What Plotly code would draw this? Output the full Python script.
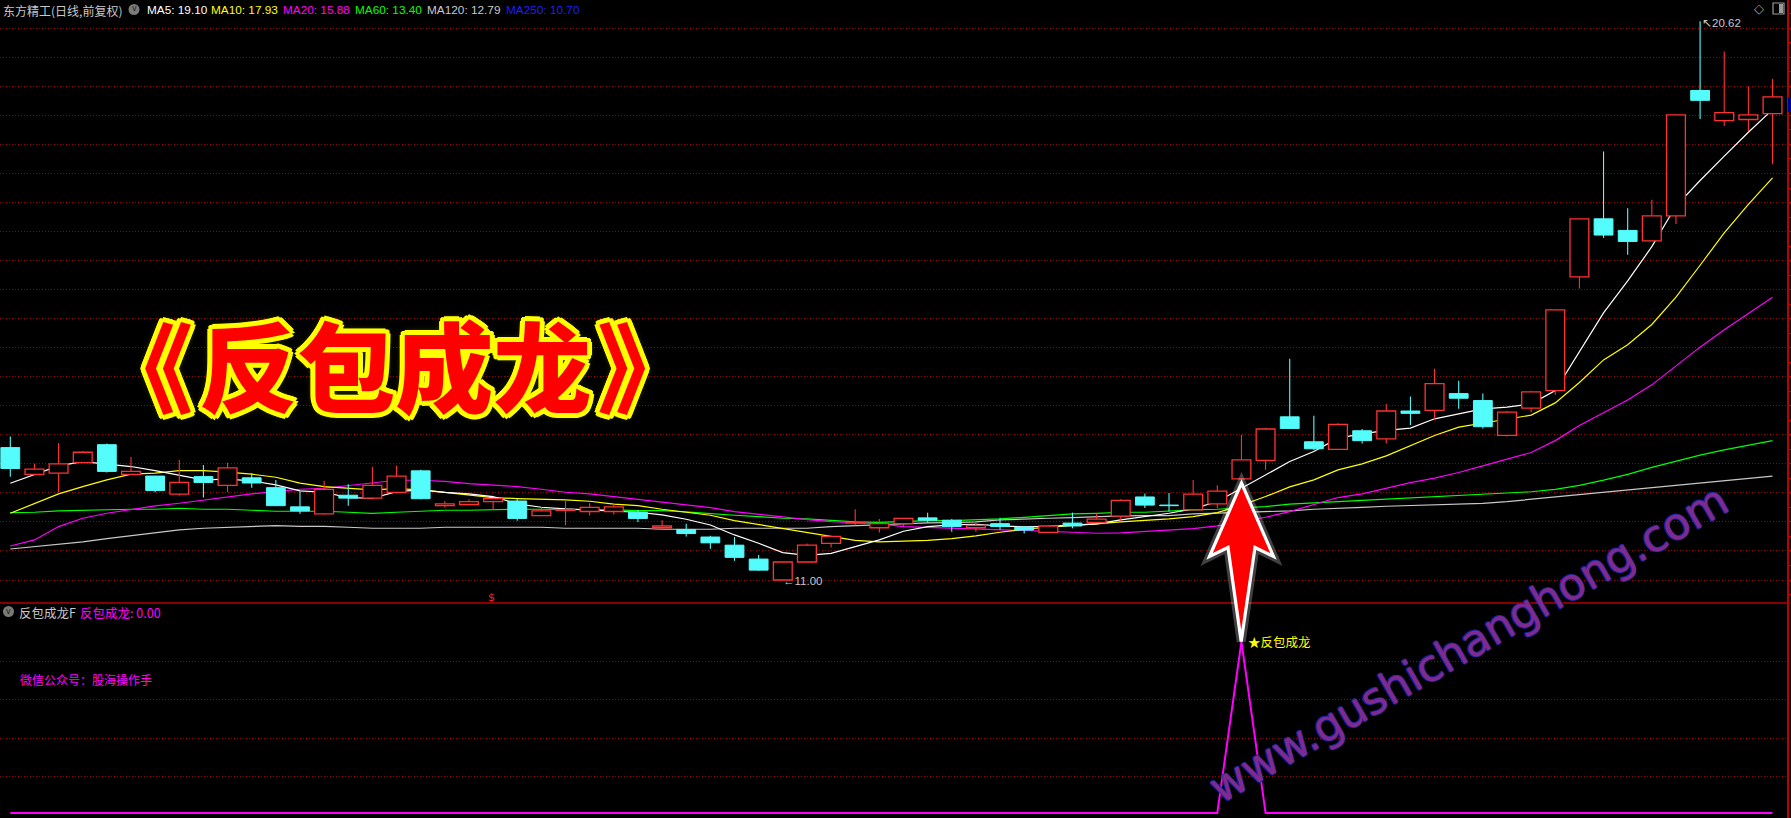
import plotly.graph_objects as go

W, H = 1791, 818

# ---------------- data ----------------
opens = [13.28, 12.82, 12.84, 13.02, 13.33, 12.82, 12.79, 12.48, 12.78, 12.63,
         12.76, 12.59, 12.26, 12.14, 12.46, 12.41, 12.51, 12.88, 12.28, 12.30,
         12.35, 12.36, 12.11, 12.20, 12.18, 12.18, 12.17, 11.90, 11.87, 11.74,
         11.60, 11.36, 11.00, 11.31, 11.63, 11.98, 11.90, 11.97, 12.07, 12.03,
         11.90, 11.97, 11.91, 11.82, 11.98, 11.99, 12.10, 12.43, 12.29, 12.21,
         12.31, 12.74, 13.06, 13.81, 13.38, 13.25, 13.57, 13.43, 13.91, 13.92,
         14.21, 14.09, 13.49, 13.96, 14.26, 16.22, 17.22, 17.02, 16.84, 17.27,
         19.43, 18.91, 18.93, 19.03]
highs = [13.47, 13.00, 13.36, 13.22, 13.35, 13.12, 12.79, 13.07, 12.98, 13.02,
         12.84, 12.72, 12.53, 12.71, 12.65, 12.95, 12.97, 12.90, 12.36, 12.39,
         12.40, 12.40, 12.25, 12.38, 12.32, 12.32, 12.20, 12.03, 11.97, 11.76,
         11.74, 11.43, 11.31, 11.63, 11.75, 12.22, 12.05, 12.06, 12.16, 12.05,
         11.98, 12.07, 11.93, 11.93, 12.16, 12.15, 12.39, 12.49, 12.50, 12.72,
         12.63, 13.50, 13.62, 14.81, 13.83, 13.70, 13.60, 14.03, 14.16, 14.64,
         14.43, 14.21, 13.91, 14.26, 15.66, 17.22, 18.38, 17.40, 17.55, 19.01,
         20.62, 20.10, 19.50, 19.63]
lows = [12.78, 12.82, 12.51, 13.02, 12.85, 12.82, 12.51, 12.45, 12.42, 12.51,
        12.59, 12.28, 12.14, 12.13, 12.28, 12.39, 12.49, 12.39, 12.25, 12.30,
        12.22, 12.02, 12.11, 11.94, 12.11, 12.13, 12.00, 11.86, 11.75, 11.54,
        11.33, 11.16, 11.00, 11.31, 11.56, 11.94, 11.82, 11.93, 11.99, 11.83,
        11.83, 11.87, 11.80, 11.82, 11.89, 11.99, 12.02, 12.24, 12.18, 12.21,
        12.24, 12.74, 12.90, 13.61, 13.24, 13.25, 13.35, 13.35, 13.67, 13.75,
        13.95, 13.61, 13.47, 13.89, 14.19, 16.02, 16.89, 16.60, 16.84, 17.13,
        18.94, 18.82, 18.73, 18.16]
closes = [12.92, 12.91, 13.00, 13.20, 12.87, 12.87, 12.54, 12.68, 12.68, 12.93,
          12.67, 12.28, 12.19, 12.56, 12.41, 12.63, 12.79, 12.40, 12.31, 12.35,
          12.40, 12.06, 12.19, 12.21, 12.25, 12.26, 12.06, 11.93, 11.80, 11.64,
          11.39, 11.17, 11.31, 11.60, 11.75, 11.99, 11.97, 12.06, 12.03, 11.92,
          11.94, 11.92, 11.86, 11.93, 11.93, 12.05, 12.37, 12.29, 12.28, 12.48,
          12.53, 13.07, 13.60, 13.61, 13.26, 13.68, 13.40, 13.91, 13.87, 14.38,
          14.13, 13.64, 13.89, 14.24, 15.65, 17.22, 16.94, 16.83, 17.27, 19.01,
          19.26, 19.05, 19.01, 19.32]

ma5 = [12.667, 12.810, 12.966, 13.040, 12.994, 12.954, 12.885, 12.810, 12.724, 12.736,
       12.707, 12.638, 12.534, 12.511, 12.420, 12.408, 12.523, 12.552, 12.510, 12.483,
       12.437, 12.310, 12.253, 12.224, 12.207, 12.190, 12.167, 12.121, 12.046, 11.948,
       11.776, 11.632, 11.471, 11.425, 11.460, 11.575, 11.690, 11.840, 11.920, 11.950,
       11.960, 11.931, 11.914, 11.925, 11.943, 11.966, 12.034, 12.092, 12.149, 12.224,
       12.351, 12.580, 12.810, 13.040, 13.213, 13.443, 13.517, 13.575, 13.615, 13.776,
       13.862, 13.948, 13.977, 14.034, 14.264, 14.930, 15.600, 16.150, 16.740, 17.440,
       17.880, 18.300, 18.710, 19.100]
ma10 = [12.149, 12.322, 12.483, 12.609, 12.724, 12.822, 12.839, 12.885, 12.885, 12.856,
        12.822, 12.770, 12.667, 12.609, 12.580, 12.552, 12.575, 12.552, 12.508, 12.466,
        12.420, 12.402, 12.391, 12.379, 12.356, 12.305, 12.282, 12.218, 12.167, 12.115,
        12.023, 11.954, 11.885, 11.810, 11.741, 11.684, 11.655, 11.667, 11.684, 11.713,
        11.759, 11.822, 11.874, 11.908, 11.931, 11.966, 12.000, 12.023, 12.052, 12.092,
        12.161, 12.287, 12.437, 12.603, 12.724, 12.897, 13.000, 13.138, 13.310, 13.489,
        13.632, 13.701, 13.776, 13.839, 14.050, 14.400, 14.790, 15.050, 15.400, 15.870,
        16.420, 16.977, 17.470, 17.925]
ma20 = [11.586, 11.690, 11.920, 12.063, 12.149, 12.218, 12.276, 12.322, 12.379, 12.437,
        12.483, 12.523, 12.563, 12.580, 12.626, 12.667, 12.718, 12.718, 12.700, 12.661,
        12.638, 12.609, 12.563, 12.511, 12.483, 12.437, 12.397, 12.339, 12.299, 12.247,
        12.178, 12.126, 12.086, 12.040, 12.006, 11.989, 11.966, 11.920, 11.908, 11.897,
        11.885, 11.874, 11.856, 11.839, 11.822, 11.805, 11.810, 11.839, 11.868, 11.885,
        11.931, 12.006, 12.080, 12.178, 12.293, 12.420, 12.483, 12.580, 12.678, 12.753,
        12.851, 12.966, 13.080, 13.195, 13.400, 13.660, 13.880, 14.100, 14.360, 14.680,
        15.010, 15.310, 15.590, 15.870]
ma60 = [12.161, 12.167, 12.190, 12.201, 12.201, 12.218, 12.218, 12.236, 12.218, 12.218,
        12.201, 12.184, 12.184, 12.184, 12.167, 12.149, 12.167, 12.184, 12.201, 12.201,
        12.213, 12.218, 12.218, 12.218, 12.213, 12.207, 12.195, 12.195, 12.172, 12.138,
        12.115, 12.092, 12.063, 12.052, 12.023, 12.000, 11.994, 12.011, 12.023, 12.023,
        12.034, 12.052, 12.080, 12.115, 12.138, 12.149, 12.167, 12.167, 12.190, 12.207,
        12.218, 12.236, 12.264, 12.305, 12.322, 12.351, 12.370, 12.390, 12.410, 12.430,
        12.450, 12.470, 12.490, 12.520, 12.560, 12.630, 12.720, 12.820, 12.940, 13.050,
        13.150, 13.240, 13.320, 13.400]
ma120 = [11.534, 11.575, 11.621, 11.655, 11.713, 11.764, 11.805, 11.862, 11.891, 11.908,
         11.920, 11.937, 11.925, 11.925, 11.908, 11.891, 11.891, 11.891, 11.908, 11.908,
         11.908, 11.908, 11.908, 11.891, 11.891, 11.891, 11.891, 11.874, 11.874, 11.874,
         11.891, 11.891, 11.891, 11.891, 11.920, 11.937, 11.960, 11.966, 11.983, 11.989,
         12.000, 12.034, 12.052, 12.063, 12.075, 12.092, 12.103, 12.109, 12.109, 12.138,
         12.149, 12.155, 12.172, 12.190, 12.218, 12.240, 12.250, 12.270, 12.280, 12.300,
         12.310, 12.320, 12.350, 12.390, 12.430, 12.470, 12.510, 12.550, 12.590, 12.630,
         12.670, 12.720, 12.750, 12.790]

signal = [0, 0, 0, 0, 0, 0, 0, 0, 0, 0,
          0, 0, 0, 0, 0, 0, 0, 0, 0, 0,
          0, 0, 0, 0, 0, 0, 0, 0, 0, 0,
          0, 0, 0, 0, 0, 0, 0, 0, 0, 0,
          0, 0, 0, 0, 0, 0, 0, 0, 0, 0,
          0, 1, 0, 0, 0, 0, 0, 0, 0, 0,
          0, 0, 0, 0, 0, 0, 0, 0, 0, 0,
          0, 0, 0, 0]

header_labels = ["东方精工(日线,前复权)", "MA5: 19.10", "MA10: 17.93", "MA20: 15.88",
                 "MA60: 13.40", "MA120: 12.79", "MA250: 10.70"]
grid_prices = [11.0, 11.5, 12.0, 12.5, 13.0, 13.5, 14.0, 14.5, 15.0, 15.5,
               16.0, 16.5, 17.0, 17.5, 18.0, 18.5, 19.0, 19.5, 20.0, 20.5]
high_label = "20.62"
low_label = "11.00"

# ---------------- styling ----------------
RED = "#FF3232"
CYAN = "#54FCFC"
GRID = "#A00000"
idx = list(range(len(closes)))


def px(x):
    return x / W


def py(y):
    return 1 - y / H


fig = go.Figure()

# moving averages (underneath candles)
for vals, col in [(ma120, "#C8C8C8"), (ma60, "#00FF00"), (ma20, "#FF00FF"),
                  (ma10, "#FFFF00"), (ma5, "#FFFFFF")]:
    fig.add_trace(go.Scatter(x=idx, y=vals, mode="lines", line=dict(color=col, width=1.2),
                             hoverinfo="skip", xaxis="x", yaxis="y"))

# candles on overlay axis (drawn above the MAs)
up = [i for i in idx if closes[i] >= opens[i]]
dn = [i for i in idx if closes[i] < opens[i]]

fig.add_trace(go.Bar(x=dn, base=[closes[i] for i in dn],
                     y=[opens[i] - closes[i] for i in dn], width=0.78,
                     marker=dict(color=CYAN, line=dict(color=CYAN, width=1)),
                     hoverinfo="skip", xaxis="x", yaxis="y3"))
fig.add_trace(go.Bar(x=up, base=[opens[i] for i in up],
                     y=[max(closes[i] - opens[i], 0.012) for i in up], width=0.78,
                     marker=dict(color="#000000", line=dict(color=RED, width=1.3)),
                     hoverinfo="skip", xaxis="x", yaxis="y3"))

wx, wy = [], []
for i in up:
    wx += [i, i, None, i, i, None]
    wy += [max(opens[i], closes[i]), highs[i], None, lows[i], min(opens[i], closes[i]), None]
fig.add_trace(go.Scatter(x=wx, y=wy, mode="lines", line=dict(color=RED, width=1.1),
                         hoverinfo="skip", xaxis="x", yaxis="y3"))
dx, dy = [], []
for i in dn:
    dx += [i, i, None]
    dy += [highs[i], lows[i], None]
fig.add_trace(go.Scatter(x=dx, y=dy, mode="lines", line=dict(color=CYAN, width=1.1),
                         hoverinfo="skip", xaxis="x", yaxis="y3"))

# indicator panel
fig.add_trace(go.Scatter(x=idx, y=signal, mode="lines", line=dict(color="#FF00FF", width=2),
                         hoverinfo="skip", xaxis="x", yaxis="y2", cliponaxis=False))

# ---------------- axes ----------------
K = 58.07
main_top = 11.0 + 580 / K
main_bot = 11.0 - 23 / K
KL = 171.3
low_top = (813 - 603) / KL
low_bot = (813 - 818) / KL
low_grid = [(813 - y) / KL for y in (661.7, 699.5, 738.0, 776.0)]
sep = 1 - 603 / H
xr = [(-10.3) / 24.14, (1787 - 10.3) / 24.14]

fig.update_layout(
    width=W, height=H, margin=dict(l=0, r=0, t=0, b=0),
    paper_bgcolor="#000000", plot_bgcolor="#000000",
    showlegend=False, barmode="overlay", hovermode=False,
    xaxis=dict(domain=[0, 1787 / W], range=xr, showgrid=False, zeroline=False,
               showticklabels=False, ticks="", anchor="y", rangeslider=dict(visible=False)),
    yaxis=dict(domain=[sep, 1], range=[main_bot, main_top], side="right",
               tickvals=grid_prices, showticklabels=False, showgrid=True,
               gridcolor=GRID, griddash="1px,2px", gridwidth=1, zeroline=False,
               showline=True, linecolor="#C00000", linewidth=1.5,
               ticks="outside", ticklen=4, tickcolor="#C00000",
               minor=dict(dtick=0.25, ticks="outside", ticklen=3, tickcolor="#C00000",
                          showgrid=False)),
    yaxis3=dict(overlaying="y", range=[main_bot, main_top], visible=False,
                showgrid=False, zeroline=False),
    yaxis2=dict(domain=[0, sep], range=[low_bot, low_top], side="right", anchor="x",
                tickvals=low_grid, showticklabels=False, showgrid=True,
                gridcolor=GRID, griddash="1px,2px", gridwidth=1, zeroline=False,
                showline=True, linecolor="#C00000", linewidth=1.5, ticks=""),
)

# ---------------- shapes ----------------
shapes = []
shapes.append(dict(type="line", xref="paper", yref="paper", x0=0, x1=px(1787), y0=sep, y1=sep,
                   line=dict(color="#B40000", width=1.5)))
# header icon circles
for cx, cy in [(134, 9.5), (8.5, 611.5)]:
    shapes.append(dict(type="circle", xref="paper", yref="paper",
                       x0=px(cx - 5.5), x1=px(cx + 5.5), y0=py(cy + 5.5), y1=py(cy - 5.5),
                       fillcolor="#7A7A7A", line=dict(width=0)))
# top-right window icon
shapes.append(dict(type="rect", xref="paper", yref="paper", x0=px(1773), x1=px(1784),
                   y0=py(14), y1=py(3), line=dict(color="#9A9A9A", width=1.2)))
shapes.append(dict(type="rect", xref="paper", yref="paper", x0=px(1779), x1=px(1783),
                   y0=py(13), y1=py(4), fillcolor="#9A9A9A", line=dict(width=0)))
# current price tag on right edge
shapes.append(dict(type="rect", xref="paper", yref="paper", x0=px(1788), x1=px(1791),
                   y0=py(112), y1=py(97), fillcolor="#000090", line=dict(width=0)))

# big red arrow
pts = [(1241.5, 483), (1273.5, 556.5), (1255, 547.5), (1241.2, 641.5),
       (1228, 547.5), (1209.5, 556.5)]
path = "M " + " L ".join(f"{px(x):.6f},{py(y):.6f}" for x, y in pts) + " Z"
shapes.append(dict(type="path", xref="paper", yref="paper", path=path,
                   fillcolor="rgba(0,0,0,0)", line=dict(color="rgba(255,255,255,0.25)", width=9)))
shapes.append(dict(type="path", xref="paper", yref="paper", path=path,
                   fillcolor="#FF0000", line=dict(color="#FFFFFF", width=3.2)))

# ---------------- annotations ----------------
ann = []


def text(t, x, y, color, size=12, family="Noto Sans CJK SC", xanchor="left"):
    ann.append(dict(text=t, x=px(x), y=py(y), xref="paper", yref="paper", showarrow=False,
                    xanchor=xanchor, yanchor="middle",
                    font=dict(family=family, size=size, color=color)))


text(header_labels[0], 1, 10, "#C8C8C8", 12)
text("v", 134, 9, "#202020", 8, family="DejaVu Sans", xanchor="center")
ma_cols = ["#FFFFFF", "#FFFF00", "#FF00FF", "#00FF00", "#C8C8C8", "#1E1EFF"]
ma_x = [145, 209, 281, 353, 425, 504]
for lab, col, xx in zip(header_labels[1:], ma_cols, ma_x):
    text(lab, xx, 10, col, 11.8, family="Liberation Sans")

text("◇", 1759, 9, "#A0A0A0", 13, family="DejaVu Sans", xanchor="center")
text("↖" + high_label, 1700, 23, "#C8C8C8", 11.5, family="Liberation Sans")
text("←" + low_label, 781, 581, "#C8C8C8", 11.5, family="Liberation Sans")
text("$", 491.7, 597, "#FF2020", 11, family="DejaVu Sans", xanchor="center")

text("v", 8.5, 611, "#202020", 8, family="DejaVu Sans", xanchor="center")
text("反包成龙F", 17, 612, "#C8C8C8", 12.5)
text("反包成龙: 0.00", 78, 612, "#FF00FF", 12.5)
text("微信公众号：股海操作手", 18, 679, "#FF00FF", 12)
text("★反包成龙", 1246, 641, "#FFFF00", 12.5)

# big title with yellow outline
offs = [(5, 0), (-5, 0), (0, 5), (0, -5), (4, 3), (-4, 3), (4, -3), (-4, -3),
        (3, 4), (-3, 4), (3, -4), (-3, -4), (2, 2), (-2, 2), (2, -2), (-2, -2)]
shadow = ", ".join(f"{a}px {b}px 0 #FFFF00" for a, b in offs) + ", 0 0 9px rgba(255,255,0,0.7)"
ann.append(dict(text="《\u200a反包成龙\u200a》", x=px(395), y=py(362), xref="paper", yref="paper",
                showarrow=False, xanchor="center", yanchor="middle",
                font=dict(family="Noto Sans CJK SC", size=98, color="#FF0000",
                          weight=900, shadow=shadow)))

# watermark
wshadow = ("1px 0 0 #2222A0, -1px 0 0 #2222A0, 0 1px 0 #2222A0, 0 -1px 0 #2222A0")
ann.append(dict(text="www.gushichanghong.com", x=px(1468), y=py(643), xref="paper", yref="paper",
                showarrow=False, xanchor="center", yanchor="middle", textangle=-30,
                font=dict(family="DejaVu Sans", size=44, color="#7E2A8E", shadow=wshadow)))

fig.update_layout(shapes=shapes, annotations=ann)
fig.write_html("out.html", config={"displayModeBar": False},
               post_script="document.body.style.margin='0px';document.body.style.padding='0px';"
                           "document.body.style.overflow='hidden';")
